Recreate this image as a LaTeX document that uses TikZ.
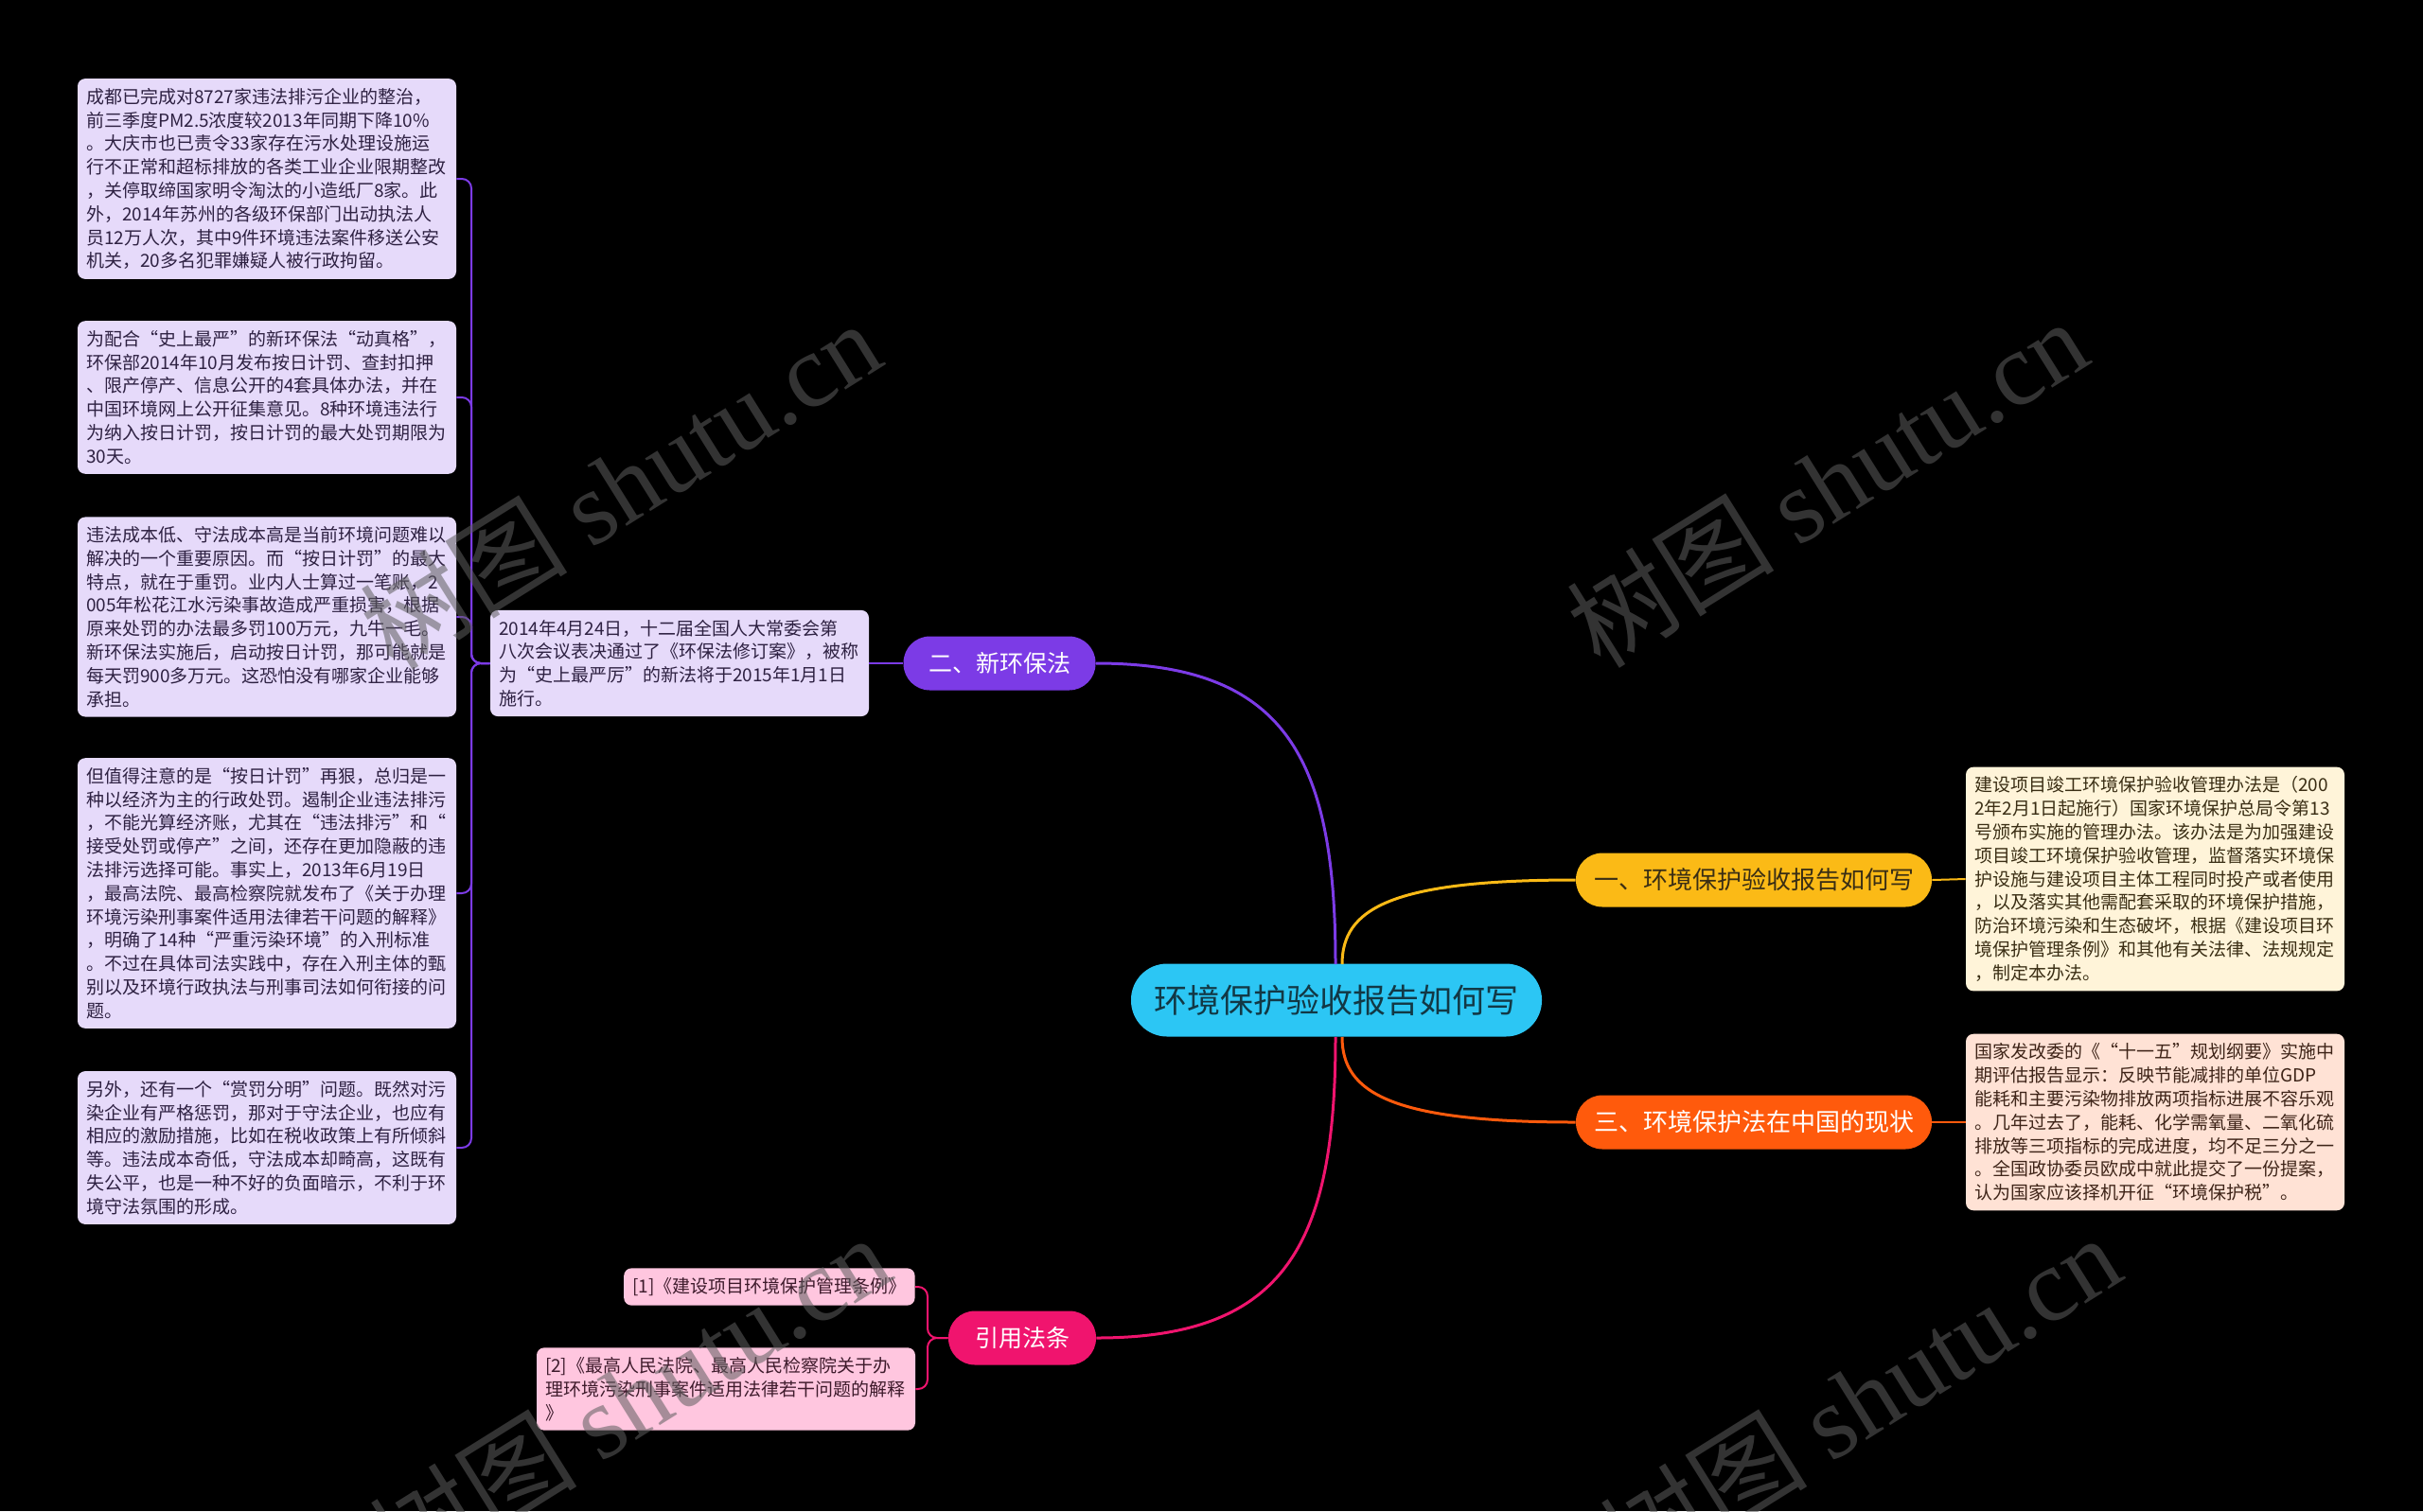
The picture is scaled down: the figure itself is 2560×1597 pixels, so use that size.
\documentclass[tikz,border=0pt]{standalone}
\usepackage{fontspec}
\setmainfont{Noto Sans CJK SC}
\newfontfamily\wmserif{Liberation Serif}
\definecolor{bgc}{HTML}{000000}
\definecolor{purp}{HTML}{7C3BE6}
\definecolor{purpbox}{HTML}{E6DAFA}
\definecolor{purptxt}{HTML}{2E2142}
\definecolor{cyanc}{HTML}{2CC6F4}
\definecolor{cyantxt}{HTML}{123845}
\definecolor{yel}{HTML}{FBBA16}
\definecolor{yelbox}{HTML}{FFF4D9}
\definecolor{yeltxt}{HTML}{3A2E14}
\definecolor{ora}{HTML}{FF5A0C}
\definecolor{orabox}{HTML}{FFE2D5}
\definecolor{oratxt}{HTML}{3E2418}
\definecolor{pnk}{HTML}{F0146E}
\definecolor{pnkbox}{HTML}{FFC6DF}
\definecolor{pnktxt}{HTML}{3E1B2C}
\definecolor{wmc}{HTML}{5E5E5E}
\begin{document}
\begin{tikzpicture}[x=0.5pt,y=-0.5pt,
  leaf/.style={rounded corners=4pt, inner xsep=4.5pt, inner ysep=5pt,
    text width=191pt, align=left, font=\fontsize{9.5}{12.4}\selectfont},
  leafL/.style={leaf, fill=purpbox, text=purptxt},
  leafY/.style={leaf, fill=yelbox, text=yeltxt},
  leafO/.style={leaf, fill=orabox, text=oratxt},
  leafP/.style={leaf, fill=pnkbox, text=pnktxt},
  branch/.style={rounded corners=14pt, minimum height=28.5pt, inner sep=0pt,
    font=\fontsize{13}{15}\selectfont},
  link/.style={line width=1.5pt},
  sublink/.style={line width=1pt, rounded corners=5pt},
  wm/.style={text=wmc, text opacity=0.55, rotate=32, font=\fontsize{55}{58}\selectfont}
]
\fill[bgc] (0,0) rectangle (2560,1597);
\useasboundingbox (0,0) rectangle (2560,1597);

% central
\node[fill=cyanc, text=cyantxt, rounded corners=19pt, minimum width=217pt,
  minimum height=38.5pt, inner sep=0pt, font=\fontsize{17.5}{20}\selectfont]
  (root) at (1412,1057) {环境保护验收报告如何写};

% branches
\node[branch, fill=purp, text=white, minimum width=101.5pt,
  font=\fontsize{12.5}{15}\selectfont] (b2) at (1056,701) {二、新环保法};
\node[branch, fill=yel, text=yeltxt, minimum width=188pt] (b1) at (1853,930) {一、环境保护验收报告如何写};
\node[branch, fill=ora, text=white, minimum width=188pt] (b3) at (1853,1186) {三、环境保护法在中国的现状};
\node[branch, fill=pnk, text=white, minimum width=78pt,
  font=\fontsize{12.5}{15}\selectfont] (b4) at (1080,1414) {引用法条};

% main connectors
\coordinate (rt1) at (1411,1019);
\coordinate (rt2) at (1418,1019);
\coordinate (rb1) at (1411,1096);
\coordinate (rb2) at (1418,1096);
\draw[link, purp] (b2.east) .. controls (1358,701) and (1411,800) .. (rt1);
\draw[link, yel] (rt2) .. controls (1418,960) and (1470,930) .. (b1.west);
\draw[link, ora] (rb2) .. controls (1418,1155) and (1470,1186) .. (b3.west);
\draw[link, pnk] (b4.east) .. controls (1358,1414) and (1411,1315) .. (rb1);

% xinhuanbaofa sub-branch
\node[leafL] (law) at (718,701) {2014年4月24日，十二届全国人大常委会第\\
八次会议表决通过了《环保法修订案》，被称\\
为“史上最严厉”的新法将于2015年1月1日\\
施行。};
\draw[sublink, purp] (b2.west) -- (law.east);

\node[leafL] (l1) at (282,189) {成都已完成对8727家违法排污企业的整治，\\
前三季度PM2.5浓度较2013年同期下降10\%\\
。大庆市也已责令33家存在污水处理设施运\\
行不正常和超标排放的各类工业企业限期整改\\
，关停取缔国家明令淘汰的小造纸厂8家。此\\
外，2014年苏州的各级环保部门出动执法人\\
员12万人次，其中9件环境违法案件移送公安\\
机关，20多名犯罪嫌疑人被行政拘留。};

\node[leafL] (l2) at (282,420) {为配合“史上最严”的新环保法“动真格”，\\
环保部2014年10月发布按日计罚、查封扣押\\
、限产停产、信息公开的4套具体办法，并在\\
中国环境网上公开征集意见。8种环境违法行\\
为纳入按日计罚，按日计罚的最大处罚期限为\\
30天。};

\node[leafL] (l3) at (282,652) {违法成本低、守法成本高是当前环境问题难以\\
解决的一个重要原因。而“按日计罚”的最大\\
特点，就在于重罚。业内人士算过一笔账，2\\
005年松花江水污染事故造成严重损害，根据\\
原来处罚的办法最多罚100万元，九牛一毛。\\
新环保法实施后，启动按日计罚，那可能就是\\
每天罚900多万元。这恐怕没有哪家企业能够\\
承担。};

\node[leafL] (l4) at (282,944) {但值得注意的是“按日计罚”再狠，总归是一\\
种以经济为主的行政处罚。遏制企业违法排污\\
，不能光算经济账，尤其在“违法排污”和“\\
接受处罚或停产”之间，还存在更加隐蔽的违\\
法排污选择可能。事实上，2013年6月19日\\
，最高法院、最高检察院就发布了《关于办理\\
环境污染刑事案件适用法律若干问题的解释》\\
，明确了14种“严重污染环境”的入刑标准\\
。不过在具体司法实践中，存在入刑主体的甄\\
别以及环境行政执法与刑事司法如何衔接的问\\
题。};

\node[leafL] (l5) at (282,1213) {另外，还有一个“赏罚分明”问题。既然对污\\
染企业有严格惩罚，那对于守法企业，也应有\\
相应的激励措施，比如在税收政策上有所倾斜\\
等。违法成本奇低，守法成本却畸高，这既有\\
失公平，也是一种不好的负面暗示，不利于环\\
境守法氛围的形成。};

\coordinate (jl) at (498,701);
\foreach \c in {l1,l2,l3,l4,l5}
  \draw[sublink, purp] (law.west) -- (jl) |- (\c.east);

% right leaves
\node[leafY] (r1) at (2277,929) {建设项目竣工环境保护验收管理办法是（200\\
2年2月1日起施行）国家环境保护总局令第13\\
号颁布实施的管理办法。该办法是为加强建设\\
项目竣工环境保护验收管理，监督落实环境保\\
护设施与建设项目主体工程同时投产或者使用\\
，以及落实其他需配套采取的环境保护措施，\\
防治环境污染和生态破坏，根据《建设项目环\\
境保护管理条例》和其他有关法律、法规规定\\
，制定本办法。};
\draw[sublink, yel] (b1.east) -- (r1.west);

\node[leafO] (r2) at (2277,1186) {国家发改委的《“十一五”规划纲要》实施中\\
期评估报告显示：反映节能减排的单位GDP\\
能耗和主要污染物排放两项指标进展不容乐观\\
。几年过去了，能耗、化学需氧量、二氧化硫\\
排放等三项指标的完成进度，均不足三分之一\\
。全国政协委员欧成中就此提交了一份提案，\\
认为国家应该择机开征“环境保护税”。};
\draw[sublink, ora] (b3.east) -- (r2.west);

% citations
\node[leafP, text width=, align=left, anchor=east] (c1) at (967,1360) {[1]《建设项目环境保护管理条例》};
\node[leafP] (c2) at (767,1468) {[2]《最高人民法院、最高人民检察院关于办\\
理环境污染刑事案件适用法律若干问题的解释\\
》};
\coordinate (jc) at (980,1414);
\foreach \c in {c1,c2}
  \draw[sublink, pnk] (b4.west) -- (jc) |- (\c.east);

% watermarks (drawn on top, translucent)
\node[wm] (wm1) at (655,512) {树图 {\wmserif shutu.cn}};
\node[wm] (wm2) at (1930,510) {树图 {\wmserif shutu.cn}};
\node[wm] (wm3) at (665,1478) {树图 {\wmserif shutu.cn}};
\node[wm] (wm4) at (1965,1478) {树图 {\wmserif shutu.cn}};
\end{tikzpicture}
\end{document}
